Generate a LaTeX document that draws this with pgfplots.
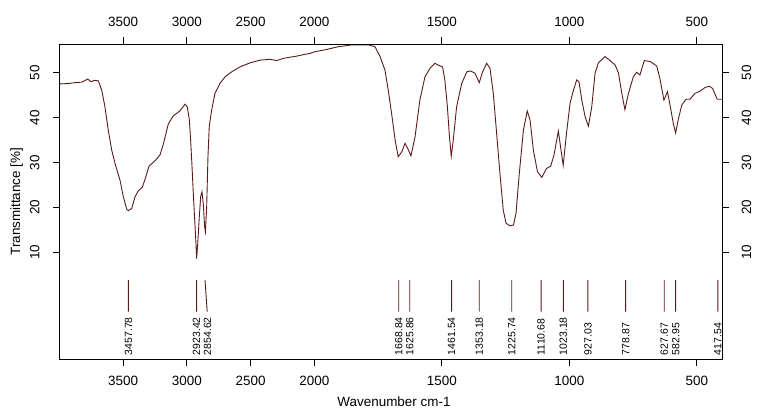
\documentclass[border=0pt]{standalone}
\usepackage{fontspec}
\setmainfont{Liberation Sans}
\usepackage{pgfplots}
\usepackage{pgfplotstable}
\pgfplotsset{compat=1.18}
\definecolor{ir}{HTML}{5A1A1A}

\pgfplotstableread{
w T
4000 47.5
3929 47.6
3877 47.8
3824 47.9
3777 48.6
3751 48.0
3725 48.3
3694 48.2
3667 46.1
3642 42.4
3616 37.2
3589 32.8
3563 29.8
3524 26.1
3498 22.4
3471 19.6
3458 19.3
3432 19.8
3406 22.4
3380 23.7
3349 24.5
3322 26.8
3296 29.2
3249 30.4
3210 31.7
3184 34.1
3145 38.6
3106 40.4
3054 41.5
3014 43.0
2996 42.4
2980 39.5
2970 35.0
2959 29.1
2949 23.1
2938 17.2
2928 12.0
2923 8.6
2914 12.1
2902 17.9
2891 22.4
2881 23.5
2871 20.9
2860 15.7
2854 14.6
2844 20.2
2834 31.3
2824 38.0
2805 41.7
2779 45.4
2740 47.6
2700 49.1
2648 50.2
2583 51.3
2504 52.2
2426 52.8
2348 53.0
2295 52.7
2243 53.2
2138 53.7
2073 54.1
2034 54.3
1997 54.7
1958 55.1
1906 55.8
1853 56.2
1788 56.2
1762 55.8
1742 53.6
1723 50.6
1710 46.1
1697 41.0
1683 35.0
1671 31.3
1657 32.4
1644 34.3
1631 32.8
1621 31.5
1605 35.7
1586 43.9
1566 49.1
1546 51.0
1527 52.1
1514 51.7
1497 51.3
1488 48.4
1478 42.4
1471 36.5
1463 31.4
1455 35.0
1442 42.4
1422 47.6
1402 50.2
1387 50.4
1370 49.9
1353 47.8
1340 50.2
1324 52.1
1311 51.0
1298 45.4
1285 36.5
1272 27.6
1259 19.4
1248 16.5
1232 15.9
1219 16.1
1209 18.7
1196 27.6
1180 37.2
1165 41.5
1154 39.5
1141 32.8
1125 28.0
1108 26.7
1089 28.7
1073 29.2
1060 31.7
1043 37.0
1024 29.4
1011 36.5
997 43.2
984 46.1
971 48.4
962 48.0
951 43.9
938 40.2
925 38.1
912 42.4
899 49.9
886 52.2
860 53.6
840 52.7
820 51.7
807 49.9
794 45.4
782 41.8
768 45.4
749 49.1
736 50.1
723 49.5
706 52.7
683 52.5
657 51.5
644 48.5
629 43.9
615 45.8
605 42.8
592 38.7
583 36.6
573 39.5
559 42.8
542 44.1
527 44.1
507 45.4
487 45.9
468 46.7
451 47.0
438 46.5
420 44.1
400 44.1
}\spectrum

\pgfplotstableread{
w y
3457.78 3.8
3457.78 -3.2
3457.78 nan
2923.42 3.8
2923.42 -3.2
2923.42 nan
2857 3.8
2840 -3.2
2840 nan
1668.84 3.8
1668.84 -3.2
1668.84 nan
1625.86 3.8
1625.86 -3.2
1625.86 nan
1461.54 3.8
1461.54 -3.2
1461.54 nan
1353.18 3.8
1353.18 -3.2
1353.18 nan
1225.74 3.8
1225.74 -3.2
1225.74 nan
1110.68 3.8
1110.68 -3.2
1110.68 nan
1023.18 3.8
1023.18 -3.2
1023.18 nan
927.03 3.8
927.03 -3.2
927.03 nan
778.87 3.8
778.87 -3.2
778.87 nan
627.67 3.8
627.67 -3.2
627.67 nan
582.95 3.8
582.95 -3.2
582.95 nan
417.54 3.8
417.54 -3.2
}\peaklines

\pgfplotstableread{
w y label
3457.78 -12.9 3457.78
2923.42 -12.9 2923.42
2838 -12.9 2854.62
1668.84 -12.9 1668.84
1625.86 -12.9 1625.86
1461.54 -12.9 1461.54
1353.18 -12.9 1353.18
1225.74 -12.9 1225.74
1110.68 -12.9 1110.68
1023.18 -12.9 1023.18
927.03 -12.9 927.03
778.87 -12.9 778.87
627.67 -12.9 627.67
582.95 -12.9 582.95
417.54 -12.9 417.54
}\peaklabels

\pgfplotsset{
  irbase/.style={
    scale only axis, width=663bp, height=315.3bp,
    xmin=0, xmax=2600, ymin=-13.8, ymax=56.4,
    xtick={250,500,750,1000,1500,2000,2500},
    xticklabels={3500,3000,2500,2000,1500,1000,500},
    ytick={10,20,30,40,50}, yticklabels={10,20,30,40,50},
    tick align=outside, major tick length=6.5bp,
    tick style={black, line width=0.8bp},
    axis line style={black, line width=0.8bp},
    ticklabel style={font=\fontsize{13.5}{14}\selectfont},
    /pgf/number format/assume math mode=true,
  }
}

\begin{document}
\begin{tikzpicture}
\begin{axis}[irbase, name=ax, clip=false,
    xticklabel pos=lower, yticklabel pos=left,
    xticklabel style={anchor=center, yshift=-15.5bp},
    yticklabel style={anchor=center, xshift=-18bp, rotate=90},
    x filter/.expression={x>=2000 ? (4000-x)/2 : 3000-x},
    unbounded coords=jump,
    xlabel={Wavenumber cm-1},
    ylabel={Transmittance [\%]},
    every axis x label/.style={at={(axis description cs:0.5048,-0.1345)}, anchor=center, font=\fontsize{13.5}{14}\selectfont},
    every axis y label/.style={at={(axis description cs:-0.0643,0.5)}, anchor=center, rotate=90, font=\fontsize{13.5}{14}\selectfont},
  ]
  \addplot[ir, line width=0.9bp, mark=none] table[x=w, y=T] {\spectrum};
  \addplot[ir, line width=0.9bp, mark=none] table[x=w, y=y] {\peaklines};
  \addplot[only marks, mark=none, nodes near coords, point meta=explicit symbolic,
    every node near coord/.append style={rotate=90, anchor=west, inner sep=0pt,
      font=\fontsize{10.5}{11}\selectfont, black}]
    table[x=w, y=y, meta=label] {\peaklabels};
\end{axis}
\begin{axis}[irbase,
    xticklabel pos=upper, yticklabel pos=right,
    xticklabel style={anchor=center, yshift=15.5bp},
    yticklabel style={anchor=center, xshift=17.7bp, rotate=90},
  ]
\end{axis}
\pgfresetboundingbox
\path[use as bounding box] (ax.south west) ++(-59.3bp,-57.7bp) rectangle ++(764bp,417bp);
\end{tikzpicture}
\end{document}
